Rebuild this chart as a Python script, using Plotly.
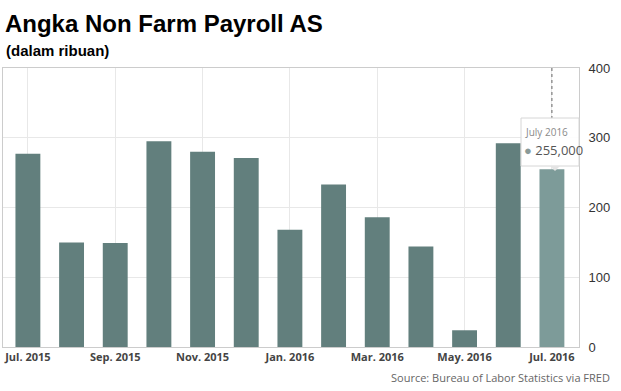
import plotly.graph_objects as go

months = ["Jul 2015", "Aug 2015", "Sep 2015", "Oct 2015", "Nov 2015", "Dec 2015",
          "Jan 2016", "Feb 2016", "Mar 2016", "Apr 2016", "May 2016", "Jun 2016", "Jul 2016"]
payrolls = [277, 150, 149, 295, 280, 271, 168, 233, 186, 144, 24, 292, 255]
tick_idx = [0, 2, 4, 6, 8, 10, 12]
tick_labels = ["Jul. 2015", "Sep. 2015", "Nov. 2015", "Jan. 2016", "Mar. 2016", "May. 2016", "Jul. 2016"]
y_ticks = [0, 100, 200, 300, 400]
hover_label = "July 2016"
hover_value = "255,000"

x = list(range(len(months)))
colors = ["#627f7d"] * (len(months) - 1) + ["#7d9b99"]

PL, PT, PW, PH = 3, 68, 576, 279


def px(xp):
    return (xp - PL) / PW


def py(yp):
    return (PT + PH - yp) / PH


fig = go.Figure()
fig.add_trace(go.Bar(x=x, y=payrolls, marker=dict(color=colors, line=dict(width=0)),
                     width=0.57, hoverinfo="skip"))

last = len(months) - 1
# crosshair dotted line
fig.add_shape(type="line", xref="x", yref="y", x0=last, x1=last, y0=400, y1=328,
              line=dict(color="#666666", width=1, dash="dot"))

# tooltip box
fig.add_shape(type="rect", xref="paper", yref="paper",
              x0=px(521), x1=px(579), y0=py(166), y1=py(118),
              fillcolor="rgba(255,255,255,0.88)", line=dict(color="#d6d6d6", width=1))
fig.add_shape(type="path", xref="paper", yref="paper",
              path="M %f %f L %f %f L %f %f Z" % (px(550), py(166), px(560), py(166), px(555), py(171)),
              fillcolor="#e4e4e4", line=dict(color="#e4e4e4", width=0))
fig.add_annotation(xref="paper", yref="paper", x=px(523), y=py(132),
                   text=hover_label, showarrow=False, xanchor="left", yanchor="middle",
                   font=dict(family="Open Sans", size=10, color="#8a8a8a"))
fig.add_annotation(xref="paper", yref="paper", x=px(522), y=py(150),
                   text="<span style='color:#8a9a98'>●</span> " + hover_value, showarrow=False,
                   xanchor="left", yanchor="middle",
                   font=dict(family="Open Sans", size=13, color="#555555"))

fig.update_layout(
    width=621, height=391,
    margin=dict(l=PL, r=621 - PL - PW, t=PT, b=391 - PT - PH),
    paper_bgcolor="white", plot_bgcolor="white",
    showlegend=False,
    bargap=0.43,
    title=dict(text="<b>Angka Non Farm Payroll AS</b>", x=0.008, xanchor="left",
               y=1 - 24 / 391, yanchor="middle",
               font=dict(family="Liberation Sans", size=24, color="#000000")),
    xaxis=dict(range=[-0.57, 12.62], tickmode="array", tickvals=tick_idx, ticktext=tick_labels,
               showgrid=True, gridcolor="#e8e8e8", gridwidth=1,
               showline=True, linecolor="#cccccc", mirror=True, ticks="",
               tickfont=dict(family="Open Sans", size=11, color="#444444", weight="bold"),
               zeroline=False),
    yaxis=dict(range=[0, 400], side="right", tickmode="array", tickvals=y_ticks,
               showgrid=True, gridcolor="#e8e8e8", gridwidth=1,
               showline=True, linecolor="#cccccc", mirror=True, ticks="",
               ticklabelstandoff=6,
               tickfont=dict(family="Liberation Sans", size=13, color="#333333"),
               zeroline=False),
)

fig.add_annotation(xref="paper", yref="paper", x=px(4), y=py(51),
                   text="<b>(dalam ribuan)</b>", showarrow=False, xanchor="left", yanchor="middle",
                   font=dict(family="Liberation Sans", size=15, color="#000000"))
fig.add_annotation(xref="paper", yref="paper", x=px(612), y=py(377),
                   text="Source: Bureau of Labor Statistics via FRED", showarrow=False,
                   xanchor="right", yanchor="middle",
                   font=dict(family="Open Sans", size=11, color="#666666"))

fig.write_html("out.html", config={"displayModeBar": False},
               post_script="document.body.style.margin='0';")
